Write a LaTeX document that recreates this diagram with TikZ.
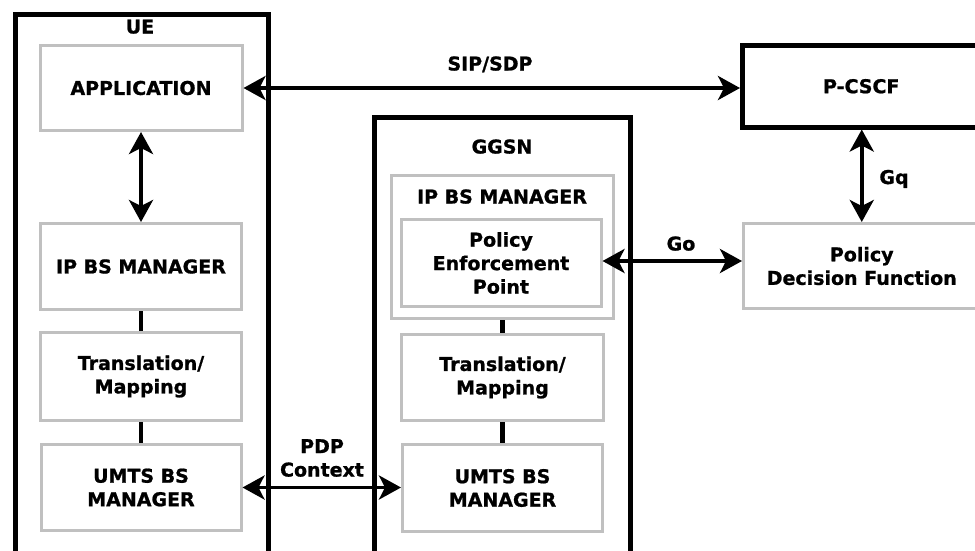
\documentclass[tikz,border=0pt]{standalone}
\usepackage{fontspec}
\setmainfont{DejaVu Sans}[BoldFeatures={FakeBold=1.0}]
\usetikzlibrary{arrows.meta}
\definecolor{boxgray}{RGB}{192,192,192}
\tikzset{
  txt/.style={font=\bfseries\fontsize{19}{23.5}\selectfont, align=center, inner sep=0pt},
  outerbox/.style={txt, draw=black, line width=4.5pt, rectangle},
  graybox/.style={txt, draw=boxgray, line width=3pt, rectangle},
  tip/.tip={Stealth[length=22pt,width=24pt,inset=6pt]},
  arr/.style={line width=3.8pt, tip-tip},
  conn/.style={line width=4.5pt},
}
\begin{document}
\begin{tikzpicture}[x=1pt,y=-1pt]
\useasboundingbox (0,0) rectangle (975,550);
\clip (0,0) rectangle (975,550);
\fill[white] (0,0) rectangle (975,550);

% containers
\node[outerbox, minimum width=253pt, minimum height=560pt, anchor=north west] (ue) at (13,12) {};
\node[outerbox, minimum width=256pt, minimum height=560pt, anchor=north west] (ggsn) at (372,115) {};
\node[outerbox, minimum width=238pt, minimum height=82pt, anchor=north west] (pcscf) at (740,43) {P-CSCF};
\node[graybox, minimum width=236.5pt, minimum height=85pt, anchor=north west] (pdf) at (742,222) {Policy\\Decision Function};

\node[txt, anchor=base] (uelbl) at (140,33.5) {UE};
\node[txt, anchor=base] (ggsnlbl) at (502,153.5) {GGSN};

% UE inner
\node[graybox, minimum width=202pt, minimum height=85pt] (app) at (141,88) {APPLICATION};
\node[graybox, minimum width=201pt, minimum height=86pt] (ipbs1) at (141,266.5) {IP BS MANAGER};
\node[graybox, minimum width=201pt, minimum height=88pt] (tr1) at (141,376.5) {Translation/\\Mapping};
\node[graybox, minimum width=200pt, minimum height=86pt] (umts1) at (141,487.5) {UMTS BS\\MANAGER};

% GGSN inner
\node[graybox, minimum width=222pt, minimum height=143pt] (ipbs2) at (502.5,247) {};
\node[txt, anchor=base] (ipbs2lbl) at (502,203.5) {IP BS MANAGER};
\node[graybox, minimum width=200pt, minimum height=87pt] (pep) at (501,263) {Policy\\Enforcement\\Point};
\node[graybox, minimum width=202pt, minimum height=86pt] (tr2) at (502.5,377.5) {Translation/\\Mapping};
\node[graybox, minimum width=200pt, minimum height=87pt] (umts2) at (502.5,488) {UMTS BS\\MANAGER};

% labels
\node[txt, anchor=base] (siplbl) at (490,70.5) {SIP/SDP};
\node[txt, anchor=base] (golbl) at (681,250.5) {Go};
\node[txt, anchor=base] (gqlbl) at (894,184) {Gq};
\node[txt] (pdplbl) at (322,458) {PDP\\Context};

% arrows
\draw[arr] (app.east) -- (app.east -| pcscf.west);
\draw[arr] (app.south) -- (ipbs1.north);
\draw[arr] (pcscf.south -| pdf.north) -- (pdf.north);
\draw[arr] ([yshift=2pt]pep.east) -- ([yshift=2pt]pep.east -| pdf.west);
\draw[arr] (umts1.east) -- (umts1.east -| umts2.west);

% plain connectors
\draw[conn] (ipbs1.south) -- (tr1.north);
\draw[conn] (tr1.south) -- (umts1.north);
\draw[conn] (ipbs2.south -| tr2.north) -- (tr2.north);
\draw[conn] (tr2.south) -- (umts2.north);
\end{tikzpicture}
\end{document}
